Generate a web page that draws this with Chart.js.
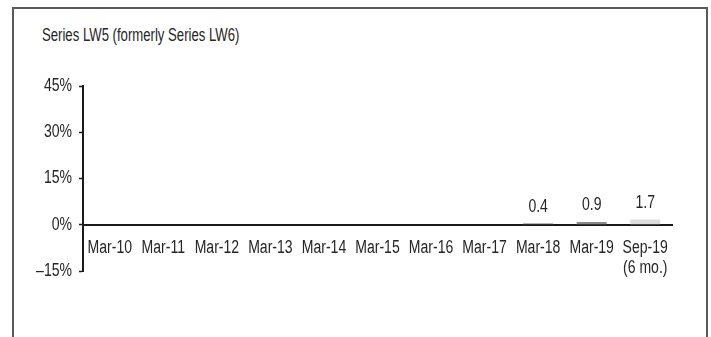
<!DOCTYPE html>
<html>
<head>
<meta charset="utf-8">
<script src="https://cdn.jsdelivr.net/npm/chart.js@4/dist/chart.umd.min.js"></script>
<style>
    html, body { margin: 0; padding: 0; background: #fff; }
    #wrap { position: relative; width: 711px; height: 337px; overflow: hidden; }
    #frame {
        position: absolute; left: 12px; top: 7px; width: 692px; height: 340px;
        border: 2px solid #5a5a5a; border-bottom: none;
    }
    #title {
        position: absolute; left: 42px; top: 25px; white-space: nowrap;
        font: 18px "Liberation Sans", Arial, sans-serif;
        color: #262626;
        transform: scaleX(0.73); transform-origin: left top;
    }
    canvas { position: absolute; left: 0; top: 0; }
</style>
</head>
<body>
<div id="wrap">
    <div id="frame"></div>
    <div id="title">Series LW5 (formerly Series LW6)</div>
    <canvas id="chart" width="711" height="337"></canvas>
</div>
<script>
    // ---- data ----
    const categories = ['Mar-10', 'Mar-11', 'Mar-12', 'Mar-13', 'Mar-14', 'Mar-15',
                        'Mar-16', 'Mar-17', 'Mar-18', 'Mar-19', ['Sep-19', '(6 mo.)']];
    const values      = [null, null, null, null, null, null, null, null, 0.4, 0.9, 1.7];
    const valueLabels = ['', '', '', '', '', '', '', '', '0.4', '0.9', '1.7'];
    const barColors   = ['#777', '#777', '#777', '#777', '#777', '#777', '#777', '#777',
                         '#6a6a6a', '#8a8a8a', '#dcdcdc'];
    const yTicks      = [-15, 0, 15, 30, 45];
    const yTickLabels = ['\u201315%', '0%', '15%', '30%', '45%'];

    const FONT = '"Liberation Sans", Arial, sans-serif';
    const TEXT = '#262626';
    const SQUEEZE = 0.78;   // no condensed face installed, so squeeze text horizontally

    // squeeze every text drawn on the canvas
    const condense = {
        id: 'condense',
        beforeInit(chart) {
            const ctx = chart.ctx;
            const orig = ctx.fillText.bind(ctx);
            ctx.fillText = (t, x, y, mw) => {
                const w = ctx.measureText(t).width * SQUEEZE;
                orig(t, x, y, mw !== undefined ? Math.min(mw, w) : w);
            };
        }
    };

    // value labels above the bars
    const barLabels = {
        id: 'barLabels',
        afterDatasetsDraw(chart) {
            const ctx = chart.ctx;
            const meta = chart.getDatasetMeta(0);
            ctx.save();
            ctx.font = '18px ' + FONT;
            ctx.fillStyle = TEXT;
            ctx.textAlign = 'center';
            ctx.textBaseline = 'alphabetic';
            meta.data.forEach((bar, i) => {
                if (!valueLabels[i]) return;
                ctx.fillText(valueLabels[i], bar.x, bar.y - 11.5);
            });
            ctx.restore();
        }
    };

    new Chart(document.getElementById('chart'), {
        type: 'bar',
        data: {
            labels: categories,
            datasets: [{
                data: values,
                backgroundColor: barColors,
                borderWidth: 0,
                categoryPercentage: 1,
                barPercentage: 0.56,
            }]
        },
        options: {
            responsive: false,
            animation: false,
            layout: { padding: { left: 0, right: 39, top: 86, bottom: 66 } },
            plugins: { legend: { display: false }, tooltip: { enabled: false } },
            scales: {
                x: {
                    position: { y: 0 },
                    grid: { display: true, drawOnChartArea: false, drawTicks: false },
                    border: { display: true, color: '#1a1a1a', width: 2 },
                    ticks: {
                        color: TEXT, font: { family: FONT, size: 18, lineHeight: 1.08 },
                        padding: 14, maxRotation: 0, autoSkip: false,
                    },
                },
                y: {
                    min: -15, max: 45,
                    afterFit: s => { s.width = 83; },
                    afterBuildTicks: s => { s.ticks = yTicks.map(v => ({ value: v })); },
                    grid: { display: true, drawOnChartArea: false, drawTicks: true,
                            tickLength: 4, tickColor: '#1a1a1a', tickWidth: 1.5 },
                    border: { display: true, color: '#1a1a1a', width: 2 },
                    ticks: {
                        color: TEXT, font: { family: FONT, size: 18 }, padding: 7,
                        callback: (v) => yTickLabels[yTicks.indexOf(v)],
                    },
                },
            },
        },
        plugins: [condense, barLabels],
    });
</script>
</body>
</html>
